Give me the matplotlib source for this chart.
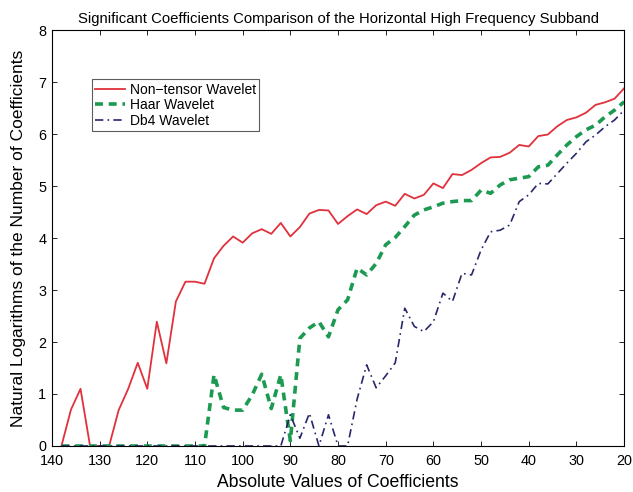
import matplotlib
matplotlib.use("Agg")
import matplotlib.pyplot as plt

plt.rcParams['font.family'] = ['Liberation Sans', 'DejaVu Sans']

x = list(range(138, 18, -2))

nontensor = [0, 0.7, 1.1, 0, 0, 0, 0.69, 1.1, 1.6, 1.1,
             2.39, 1.59, 2.78, 3.16, 3.16, 3.12, 3.61, 3.85, 4.03, 3.91,
             4.09, 4.17, 4.08, 4.29, 4.03, 4.21, 4.47, 4.54, 4.53, 4.27,
             4.42, 4.55, 4.46, 4.63, 4.70, 4.62, 4.85, 4.76, 4.83, 5.05,
             4.96, 5.23, 5.21, 5.31, 5.44, 5.55, 5.56, 5.64, 5.79, 5.76,
             5.96, 5.99, 6.15, 6.27, 6.32, 6.41, 6.56, 6.61, 6.68, 6.88]

haar = [0, 0, 0, 0, 0, 0, 0, 0, 0, 0,
        0, 0, 0, 0, 0, 0, 1.37, 0.74, 0.69, 0.69,
        0.98, 1.38, 0.72, 1.37, 0.1, 2.07, 2.27, 2.39, 2.1, 2.62,
        2.81, 3.42, 3.29, 3.51, 3.87, 4.01, 4.22, 4.44, 4.54, 4.6,
        4.67, 4.7, 4.72, 4.72, 4.92, 4.86, 5.02, 5.12, 5.15, 5.18,
        5.37, 5.4, 5.6, 5.79, 5.95, 6.08, 6.17, 6.33, 6.46, 6.62]

db4 = [0, 0, 0, 0, 0, 0, 0, 0, 0, 0,
       0, 0, 0, 0, 0, 0, 0, 0, 0, 0,
       0, 0, 0, 0, 0.6, 0.15, 0.63, 0, 0.6, 0,
       0, 0.9, 1.56, 1.12, 1.35, 1.6, 2.65, 2.3, 2.2, 2.39,
       2.94, 2.78, 3.32, 3.29, 3.77, 4.12, 4.15, 4.25, 4.7, 4.83,
       5.05, 5.04, 5.24, 5.44, 5.63, 5.85, 5.98, 6.14, 6.27, 6.46]

series_labels = ["Non\u2212tensor Wavelet", "Haar Wavelet", "Db4 Wavelet"]
xticks = list(range(140, 10, -10))
yticks = list(range(0, 9))

fig = plt.figure(figsize=(6.33, 4.92), dpi=100)
ax = fig.add_axes([0.082, 0.0935, 0.904, 0.8455])

ax.plot(x, nontensor, color='#e0313c', lw=1.3, ls='-', label=series_labels[0])
ax.plot(x, haar, color='#1c9a52', lw=2.6, ls=(0, (2.2, 1.6)), label=series_labels[1])
ax.plot(x, db4, color='#27286b', lw=1.2, ls=(0, (5, 2.5, 1, 2.5)), label=series_labels[2])

ax.set_xlim(140, 20)
ax.set_ylim(0, 8)
ax.set_xticks(xticks)
ax.set_yticks(yticks)
ax.tick_params(direction='in', top=True, right=True, labelsize=10.4, length=3.8, width=0.6)
ax.tick_params(axis='x', pad=6)
ax.tick_params(axis='y', pad=4)
for s in ax.spines.values():
    s.set_linewidth(0.8)

ax.set_title("Significant Coefficients Comparison of the Horizontal High Frequency Subband",
             fontsize=10.7, pad=5)
ax.set_xlabel("Absolute Values of Coefficients", fontsize=12.7, labelpad=4)
ax.set_ylabel("Natural Logarithms of the Number of Coefficients", fontsize=12.5, labelpad=9)

leg = ax.legend(loc='upper left', bbox_to_anchor=(0.07, 0.882), fontsize=10,
                frameon=True, fancybox=False, handlelength=2.1, handletextpad=0.36,
                borderpad=0.25, labelspacing=0.12, borderaxespad=0)
leg.get_frame().set_edgecolor('#333333')
leg.get_frame().set_linewidth(0.8)

fig.savefig("out.png", dpi=100)
